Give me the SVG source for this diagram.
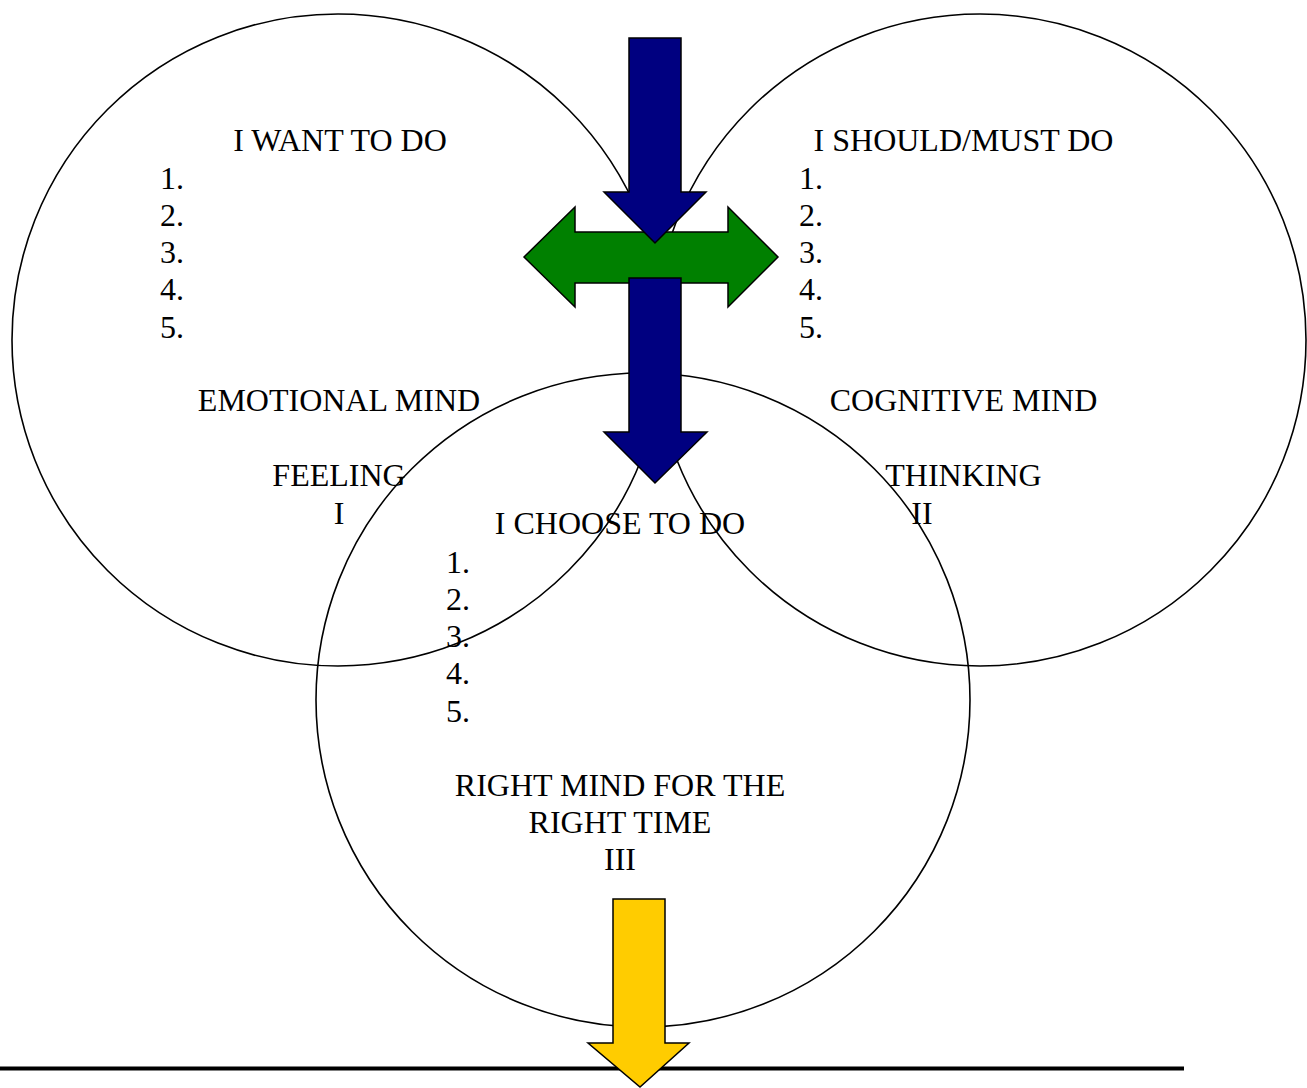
<svg xmlns="http://www.w3.org/2000/svg" width="1307" height="1088" viewBox="0 0 1307 1088">
<style>
.c{fill:none;stroke:#000;stroke-width:1.6}
.t{font-family:"Liberation Serif","Times New Roman",serif;font-size:32px;fill:#000}
.m{text-anchor:middle}
.a{stroke:#000;stroke-width:1.5;stroke-linejoin:miter}
</style>
<rect width="1307" height="1088" fill="#fff"/>
<g id="circle-emotional">
<circle class="c" cx="338" cy="340" r="326"/>
<text class="t m" x="340" y="150.5">I WANT TO DO</text>
<text class="t" x="160" y="188.5">1.</text>
<text class="t" x="160" y="225.5">2.</text>
<text class="t" x="160" y="263">3.</text>
<text class="t" x="160" y="300">4.</text>
<text class="t" x="160" y="337.5">5.</text>
<text class="t m" x="339" y="410.5">EMOTIONAL MIND</text>
<text class="t m" x="339" y="485.5">FEELING</text>
<text class="t m" x="339" y="523.5">I</text>
</g>
<g id="circle-cognitive">
<circle class="c" cx="980" cy="340" r="326"/>
<text class="t m" x="963.5" y="150.5">I SHOULD/MUST DO</text>
<text class="t" x="799" y="188.5">1.</text>
<text class="t" x="799" y="225.5">2.</text>
<text class="t" x="799" y="263">3.</text>
<text class="t" x="799" y="300">4.</text>
<text class="t" x="799" y="337.5">5.</text>
<text class="t m" x="963.5" y="410.5">COGNITIVE MIND</text>
<text class="t m" x="963.5" y="485.5">THINKING</text>
<text class="t m" x="922" y="523.5">II</text>
</g>
<g id="circle-choose">
<circle class="c" cx="643" cy="700" r="327"/>
<text class="t m" x="620" y="533.5">I CHOOSE TO DO</text>
<text class="t" x="446" y="572.5">1.</text>
<text class="t" x="446" y="609.5">2.</text>
<text class="t" x="446" y="647">3.</text>
<text class="t" x="446" y="684">4.</text>
<text class="t" x="446" y="721.5">5.</text>
<text class="t m" x="620" y="795.5">RIGHT MIND FOR THE</text>
<text class="t m" x="620" y="832.5">RIGHT TIME</text>
<text class="t m" x="620" y="869.5">III</text>
</g>
<g id="connectors">
<polygon id="arrow-green" class="a" fill="#008000" points="524,257 575,207 575,232 728,232 728,207 778,257 728,307 728,283 575,283 575,307"/>
<polygon id="arrow-blue-top" class="a" fill="#000080" points="629,38 681,38 681,192 706,192 655,243 604,192 629,192"/>
<polygon id="arrow-blue-mid" class="a" fill="#000080" points="629,278 681,278 681,432 707,432 655,483 604,432 629,432"/>
<line id="baseline" x1="0" y1="1068.5" x2="1184" y2="1068.5" stroke="#000" stroke-width="4"/>
<polygon id="arrow-yellow" class="a" fill="#FFCC00" points="613,899 665,899 665,1043 689,1043 640,1087 588,1043 613,1043"/>
</g>
</svg>
